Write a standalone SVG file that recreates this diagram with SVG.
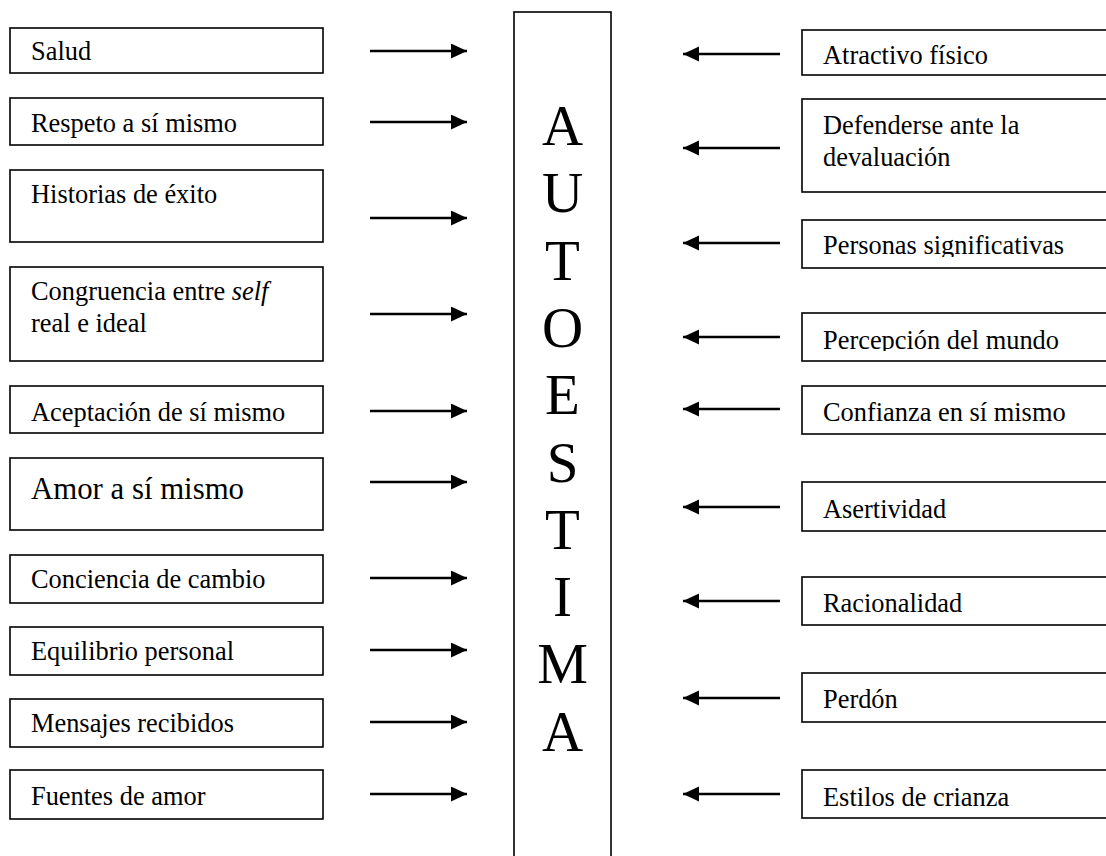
<svg xmlns="http://www.w3.org/2000/svg" width="1106" height="856" viewBox="0 0 1106 856">
<style>
.box{fill:#fff;stroke:#000;stroke-width:1.6}
.lbl{font-family:"Liberation Serif","Times New Roman",serif;font-size:26.4px;fill:#000}
.big{font-size:30.8px}
.core{font-family:"Liberation Serif","Times New Roman",serif;font-size:57px;fill:#000;text-anchor:middle}
.arr{stroke:#000;stroke-width:2.6;fill:none;marker-end:url(#head)}
</style>
<defs>
<marker id="head" markerUnits="userSpaceOnUse" markerWidth="17" markerHeight="16" refX="16" refY="7.5" orient="auto">
<path d="M0,0 L16,7.5 L0,15 Z" fill="#000"/>
</marker>
<clipPath id="c1"><rect x="802" y="30" width="310" height="36"/></clipPath>
<clipPath id="c3"><rect x="802" y="220" width="310" height="37"/></clipPath>
<clipPath id="c4"><rect x="802" y="313" width="310" height="38"/></clipPath>
</defs>
<rect width="1106" height="856" fill="#fff"/>

<g id="autoestima">
<rect class="box" x="514" y="12" width="97" height="860"/>
<text class="core" x="562.5" y="145">A</text>
<text class="core" x="562.5" y="212.3">U</text>
<text class="core" x="562.5" y="279.6">T</text>
<text class="core" x="562.5" y="346.9">O</text>
<text class="core" x="562.5" y="414.2">E</text>
<text class="core" x="562.5" y="481.5">S</text>
<text class="core" x="562.5" y="548.8">T</text>
<text class="core" x="562.5" y="616.1">I</text>
<text class="core" x="562.5" y="683.4">M</text>
<text class="core" x="562.5" y="750.7">A</text>
</g>

<g id="salud"><rect class="box" x="10" y="28" width="313" height="45"/><text class="lbl" x="31" y="60">Salud</text></g>
<g id="respeto"><rect class="box" x="10" y="98" width="313" height="47"/><text class="lbl" x="31" y="132">Respeto a sí mismo</text></g>
<g id="historias"><rect class="box" x="10" y="170" width="313" height="72"/><text class="lbl" x="31" y="203">Historias de éxito</text></g>
<g id="congruencia"><rect class="box" x="10" y="267" width="313" height="94"/><text class="lbl" x="31" y="300">Congruencia entre <tspan font-style="italic">self</tspan></text><text class="lbl" x="31" y="332">real e ideal</text></g>
<g id="aceptacion"><rect class="box" x="10" y="386" width="313" height="47"/><text class="lbl" x="31" y="421">Aceptación de sí mismo</text></g>
<g id="amor"><rect class="box" x="10" y="458" width="313" height="72"/><text class="lbl big" x="31" y="499">Amor a sí mismo</text></g>
<g id="conciencia"><rect class="box" x="10" y="555" width="313" height="48"/><text class="lbl" x="31" y="588">Conciencia de cambio</text></g>
<g id="equilibrio"><rect class="box" x="10" y="627" width="313" height="48"/><text class="lbl" x="31" y="660">Equilibrio personal</text></g>
<g id="mensajes"><rect class="box" x="10" y="699" width="313" height="48"/><text class="lbl" x="31" y="732">Mensajes recibidos</text></g>
<g id="fuentes"><rect class="box" x="10" y="770" width="313" height="49"/><text class="lbl" x="31" y="805">Fuentes de amor</text></g>

<g id="atractivo"><rect class="box" x="802" y="30" width="310" height="45"/><text class="lbl" x="823" y="64" clip-path="url(#c1)">Atractivo físico</text></g>
<g id="defenderse"><rect class="box" x="802" y="99" width="310" height="93"/><text class="lbl" x="823" y="134">Defenderse ante la</text><text class="lbl" x="823" y="166">devaluación</text></g>
<g id="personas"><rect class="box" x="802" y="220" width="310" height="48"/><text class="lbl" x="823" y="254" clip-path="url(#c3)">Personas significativas</text></g>
<g id="percepcion"><rect class="box" x="802" y="313" width="310" height="48"/><text class="lbl" x="823" y="349" clip-path="url(#c4)">Percepción del mundo</text></g>
<g id="confianza"><rect class="box" x="802" y="386" width="310" height="48"/><text class="lbl" x="823" y="421">Confianza en sí mismo</text></g>
<g id="asertividad"><rect class="box" x="802" y="482" width="310" height="49"/><text class="lbl" x="823" y="518">Asertividad</text></g>
<g id="racionalidad"><rect class="box" x="802" y="577" width="310" height="48"/><text class="lbl" x="823" y="612">Racionalidad</text></g>
<g id="perdon"><rect class="box" x="802" y="673" width="310" height="49"/><text class="lbl" x="823" y="708">Perdón</text></g>
<g id="estilos"><rect class="box" x="802" y="770" width="310" height="48"/><text class="lbl" x="823" y="806">Estilos de crianza</text></g>

<g id="connectors">
<line class="arr" x1="370" y1="51" x2="467" y2="51"/>
<line class="arr" x1="370" y1="122" x2="467" y2="122"/>
<line class="arr" x1="370" y1="218" x2="467" y2="218"/>
<line class="arr" x1="370" y1="314" x2="467" y2="314"/>
<line class="arr" x1="370" y1="411" x2="467" y2="411"/>
<line class="arr" x1="370" y1="482" x2="467" y2="482"/>
<line class="arr" x1="370" y1="578" x2="467" y2="578"/>
<line class="arr" x1="370" y1="650" x2="467" y2="650"/>
<line class="arr" x1="370" y1="722" x2="467" y2="722"/>
<line class="arr" x1="370" y1="794" x2="467" y2="794"/>
<line class="arr" x1="780" y1="54" x2="683" y2="54"/>
<line class="arr" x1="780" y1="148" x2="683" y2="148"/>
<line class="arr" x1="780" y1="243" x2="683" y2="243"/>
<line class="arr" x1="780" y1="337" x2="683" y2="337"/>
<line class="arr" x1="780" y1="409" x2="683" y2="409"/>
<line class="arr" x1="780" y1="507" x2="683" y2="507"/>
<line class="arr" x1="780" y1="601" x2="683" y2="601"/>
<line class="arr" x1="780" y1="698" x2="683" y2="698"/>
<line class="arr" x1="780" y1="794" x2="683" y2="794"/>
</g>
</svg>
